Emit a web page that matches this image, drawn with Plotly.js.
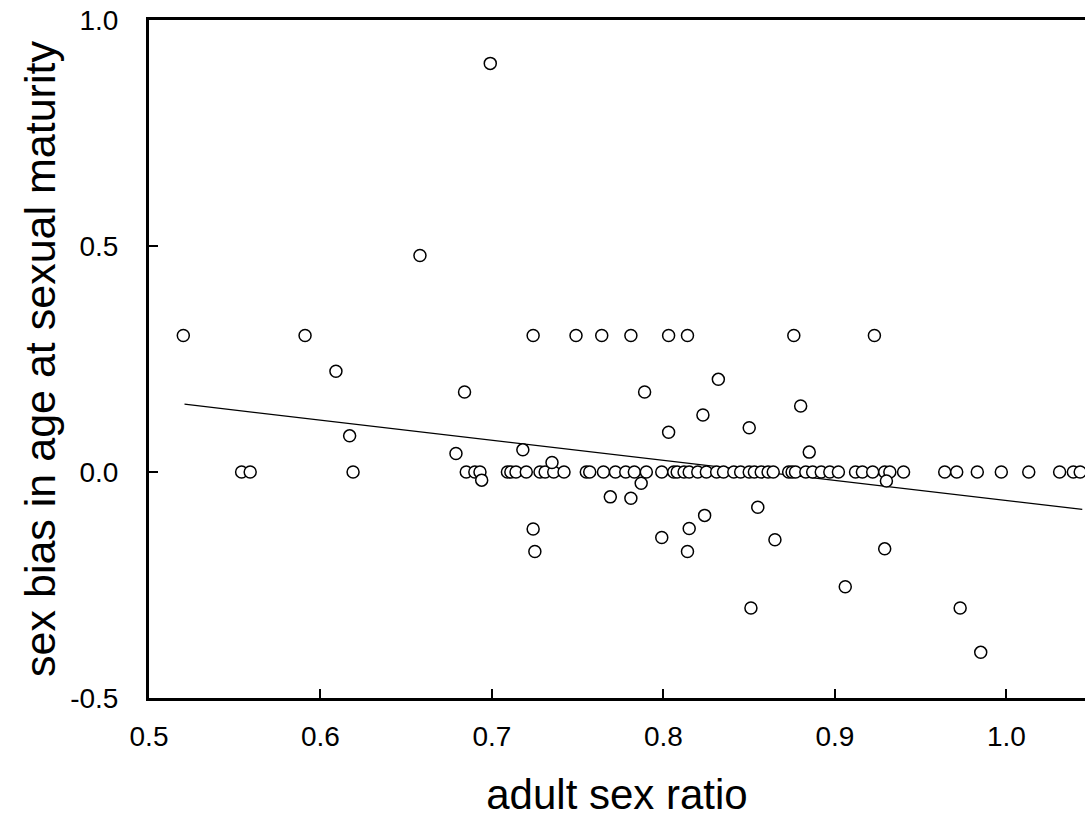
<!DOCTYPE html>
<html>
<head>
<meta charset="utf-8">
<script src="https://cdn.plot.ly/plotly-3.0.1.min.js"></script>
<style>
html,body{margin:0;padding:0;background:#fff;}
#chart{width:1085px;height:822px;}
</style>
</head>
<body>
<div id="chart"></div>
<script>
// Points lying on zero sex bias (x values)
const zeroRowX = [0.554, 0.559, 0.619, 0.685, 0.690, 0.693, 0.709, 0.711, 0.714, 0.720,
  0.728, 0.731, 0.736, 0.742, 0.755, 0.757, 0.765, 0.772, 0.778, 0.783, 0.790, 0.799,
  0.806, 0.808, 0.812, 0.815, 0.820, 0.825, 0.831, 0.835, 0.841, 0.845, 0.850, 0.853,
  0.857, 0.861, 0.864, 0.873, 0.875, 0.877, 0.883, 0.887, 0.892, 0.897, 0.902, 0.912,
  0.916, 0.922, 0.929, 0.932, 0.940, 0.964, 0.971, 0.983, 0.997, 1.013, 1.031, 1.039, 1.043];
const zeroRowY = zeroRowX.map(() => 0);

// Points off the zero line
const otherX = [0.520, 0.591, 0.609, 0.617, 0.658, 0.679, 0.684, 0.694, 0.699, 0.718,
  0.724, 0.724, 0.725, 0.735, 0.749, 0.764, 0.769, 0.781, 0.781, 0.787, 0.789, 0.799,
  0.803, 0.803, 0.814, 0.815, 0.814, 0.823, 0.824, 0.832, 0.850, 0.851, 0.855, 0.865,
  0.876, 0.880, 0.885, 0.906, 0.923, 0.929, 0.930, 0.973, 0.985];
const otherY = [0.302, 0.302, 0.223, 0.080, 0.479, 0.041, 0.177, -0.018, 0.904, 0.049,
  0.302, -0.126, -0.176, 0.021, 0.302, 0.302, -0.055, 0.302, -0.058, -0.025, 0.177, -0.145,
  0.302, 0.088, 0.302, -0.125, -0.176, 0.126, -0.096, 0.205, 0.098, -0.301, -0.078, -0.150,
  0.302, 0.146, 0.044, -0.254, 0.302, -0.170, -0.020, -0.301, -0.399];

// Fitted regression line end points
const fitX = [0.5207, 1.0442];
const fitY = [0.150, -0.0826];

const xTicks = [0.5, 0.6, 0.7, 0.8, 0.9, 1.0];
const xTickText = ["0.5", "0.6", "0.7", "0.8", "0.9", "1.0"];
const yTicks = [-0.5, 0.0, 0.5, 1.0];
const yTickText = ["-0.5", "0.0", "0.5", "1.0"];

const allX = zeroRowX.concat(otherX);
const allY = zeroRowY.concat(otherY);

const markerStyle = {symbol: 'circle', size: 12, color: '#ffffff', line: {color: '#000000', width: 1.5}};

const traces = [
  {x: fitX, y: fitY, mode: 'lines', type: 'scatter', line: {color: '#000000', width: 1.3}, hoverinfo: 'skip'},
  {x: allX, y: allY, mode: 'markers', type: 'scatter', marker: markerStyle}
];

const fontFam = 'Arial, "Liberation Sans", sans-serif';
const layout = {
  width: 1085, height: 822,
  margin: {l: 149, r: 0, t: 20, b: 124, pad: 0},
  paper_bgcolor: '#ffffff', plot_bgcolor: '#ffffff',
  showlegend: false,
  font: {family: fontFam, color: '#000000', size: 28},
  xaxis: {
    range: [0.5, 1.0458], showgrid: false, zeroline: false,
    showline: true, linecolor: '#000000', linewidth: 3, mirror: true,
    ticks: 'inside', ticklen: 9, tickwidth: 2, tickcolor: '#000000',
    tickvals: xTicks, ticktext: xTickText, ticklabelstandoff: 11,
    tickfont: {family: fontFam, size: 28, color: '#000000'},
    title: {text: 'adult sex ratio', font: {family: fontFam, size: 42, color: '#000000'}, standoff: 30}
  },
  yaxis: {
    range: [-0.5, 1.0], showgrid: false, zeroline: false,
    showline: true, linecolor: '#000000', linewidth: 3, mirror: false,
    ticks: 'inside', ticklen: 9, tickwidth: 2, tickcolor: '#000000',
    tickvals: yTicks, ticktext: yTickText, ticklabelstandoff: 22,
    tickfont: {family: fontFam, size: 28, color: '#000000'},
    title: {text: 'sex bias in age at sexual maturity', font: {family: fontFam, size: 43, color: '#000000'}, standoff: 2}
  }
};

Plotly.newPlot('chart', traces, layout, {displayModeBar: false, staticPlot: true});
</script>
</body>
</html>
